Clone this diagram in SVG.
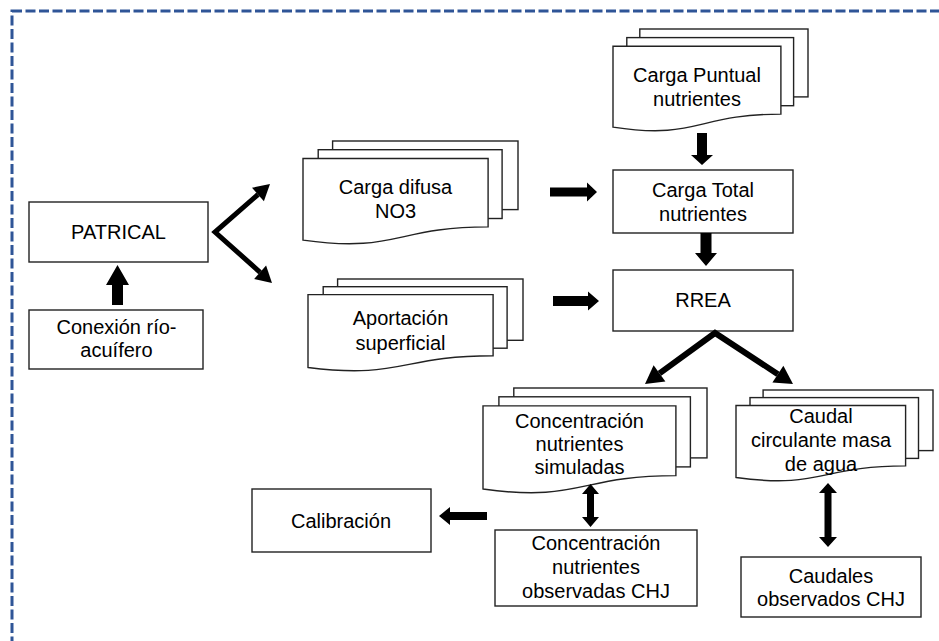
<svg xmlns="http://www.w3.org/2000/svg" width="939" height="641" viewBox="0 0 939 641">
<style>
  .frame{fill:none;stroke:#2F5597;stroke-width:3;stroke-dasharray:10 3.5}
  .box{fill:#fff;stroke:#222;stroke-width:1.4}
  .doc{fill:#fff;stroke:#222;stroke-width:1.4}
  .t{font-family:"Liberation Sans",Arial,sans-serif;font-size:20px;fill:#000;text-anchor:middle}
  .arr{fill:#000;stroke:none}
  .ln{fill:none;stroke:#000;stroke-linejoin:miter}
</style>
<rect width="939" height="641" fill="#fff"/>
<rect class="frame" x="12" y="11" width="940" height="640"/>

<g id="patrical">
  <rect class="box" x="29" y="202" width="179" height="60"/>
  <text class="t" x="118.5" y="239">PATRICAL</text>
</g>
<g id="conexion">
  <rect class="box" x="29" y="310" width="174" height="59"/>
  <text class="t" x="116.5" y="334">Conexión río-</text>
  <text class="t" x="116.5" y="357">acuífero</text>
</g>
<g id="carga-difusa">
  <rect class="doc" x="332.6" y="141" width="185.4" height="68.6"/>
  <rect class="doc" x="318.2" y="149.7" width="183.9" height="68.8"/>
  <path class="doc" d="M303,158.5 L488.1,158.5 L488.1,226.9 C395.6,226.9 395.6,253.3 303,240.1 Z"/>
  <text class="t" x="395.5" y="194">Carga difusa</text>
  <text class="t" x="395.5" y="218">NO3</text>
</g>
<g id="aportacion">
  <rect class="doc" x="337.6" y="279" width="185.4" height="61.3"/>
  <rect class="doc" x="323.2" y="286.7" width="183.9" height="61.5"/>
  <path class="doc" d="M308,294.6 L493.1,294.6 L493.1,355.7 C400.6,355.7 400.6,379.3 308,367.5 Z"/>
  <text class="t" x="400.5" y="325">Aportación</text>
  <text class="t" x="400.5" y="350">superficial</text>
</g>
<g id="carga-puntual">
  <rect class="doc" x="639.8" y="29" width="168.2" height="67.9"/>
  <rect class="doc" x="626.8" y="37.6" width="166.8" height="68.1"/>
  <path class="doc" d="M613,46.3 L780.9,46.3 L780.9,114.1 C696.9,114.1 696.9,140.2 613,127.1 Z"/>
  <text class="t" x="697" y="82">Carga Puntual</text>
  <text class="t" x="697" y="106">nutrientes</text>
</g>
<g id="carga-total">
  <rect class="box" x="613" y="170" width="180" height="63"/>
  <text class="t" x="703" y="197">Carga Total</text>
  <text class="t" x="703" y="221">nutrientes</text>
</g>
<g id="rrea">
  <rect class="box" x="613" y="270" width="180" height="61"/>
  <text class="t" x="703" y="307">RREA</text>
</g>
<g id="conc-simuladas">
  <rect class="doc" x="513.8" y="388" width="193.2" height="69.9"/>
  <rect class="doc" x="498.9" y="396.8" width="191.5" height="70.1"/>
  <path class="doc" d="M483,405.9 L675.9,405.9 L675.9,475.6 C579.4,475.6 579.4,502.5 483,489 Z"/>
  <text class="t" x="579.5" y="428">Concentración</text>
  <text class="t" x="579.5" y="451">nutrientes</text>
  <text class="t" x="579.5" y="474">simuladas</text>
</g>
<g id="caudal">
  <rect class="doc" x="763.1" y="390" width="169.9" height="60.6"/>
  <rect class="doc" x="750" y="397.6" width="168.5" height="60.8"/>
  <path class="doc" d="M736,405.5 L905.6,405.5 L905.6,465.9 C820.8,465.9 820.8,489.2 736,477.5 Z"/>
  <text class="t" x="821" y="423">Caudal</text>
  <text class="t" x="821" y="447">circulante masa</text>
  <text class="t" x="821" y="471">de agua</text>
</g>
<g id="calibracion">
  <rect class="box" x="252" y="489" width="179" height="63"/>
  <text class="t" x="341" y="528">Calibración</text>
</g>
<g id="conc-observadas">
  <rect class="box" x="495" y="530" width="202" height="76"/>
  <text class="t" x="596" y="550">Concentración</text>
  <text class="t" x="596" y="574">nutrientes</text>
  <text class="t" x="596" y="598">observadas CHJ</text>
</g>
<g id="caudales-obs">
  <rect class="box" x="741" y="557" width="180" height="60"/>
  <text class="t" x="831" y="583">Caudales</text>
  <text class="t" x="831" y="606">observados CHJ</text>
</g>

<g id="connectors">
  <!-- Conexión -> PATRICAL -->
  <polygon class="arr" points="112,305 123,305 123,285 129,285 117.5,265 106,285 112,285"/>
  <!-- PATRICAL split -->
  <polyline class="ln" stroke-width="5" points="258,194.5 215,232 260.1,272.3"/>
  <polygon class="arr" points="270,184 263.9,201.3 252,187.7"/>
  <polygon class="arr" points="272,283 266.1,265.6 254.1,279"/>
  <!-- Carga difusa -> Carga Total -->
  <polygon class="arr" points="550,187.5 587,187.5 587,182.5 597,192 587,201.5 587,196.5 550,196.5"/>
  <!-- Aportación -> RREA -->
  <polygon class="arr" points="553,296 588,296 588,291.5 599,301 588,310.5 588,306 553,306"/>
  <!-- Carga Puntual -> Carga Total -->
  <polygon class="arr" points="697,133 707,133 707,155 713,155 702,165 691,155 697,155"/>
  <!-- Carga Total -> RREA -->
  <polygon class="arr" points="700.5,233 711.5,233 711.5,253 717,253 706,266 695,253 700.5,253"/>
  <!-- RREA split -->
  <polyline class="ln" stroke-width="6" points="659.5,373.4 715,333 777.9,374.2"/>
  <polygon class="arr" points="645,384 665.4,381.5 653.6,365.3"/>
  <polygon class="arr" points="793,384 772.4,382.6 783.4,365.8"/>
  <!-- simuladas <-> observadas -->
  <polygon class="arr" points="590.5,484 599,494 594,494 594,517 599,517 590.5,527 582,517 587,517 587,494 582,494"/>
  <!-- caudal <-> caudales observados -->
  <polygon class="arr" points="828,483 837,493 831.5,493 831.5,537 837,537 828,547 819,537 824.5,537 824.5,493 819,493"/>
  <!-- -> Calibración -->
  <polygon class="arr" points="487,512 450,512 450,507 439,516 450,525 450,520 487,520"/>
</g>
</svg>
